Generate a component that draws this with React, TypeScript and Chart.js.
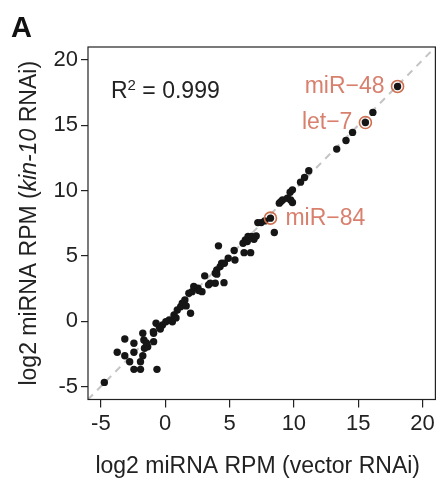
import { useEffect, useRef } from 'react';
import { Chart, registerables } from 'chart.js';
Chart.register(...registerables);

// ---- data ----
const xTicks = [-5, 0, 5, 10, 15, 20];
const yTicks = [-5, 0, 5, 10, 15, 20];
const axisMin = -6;
const axisMax = 21;

// log2 miRNA RPM (vector RNAi)
const vectorRNAi = [
  -4.73, -3.73, -3.14, -3.14, -2.76, -2.43, -2.43, -2.43, -1.92, -1.92,
  -1.74, -1.74, -1.66, -1.61, -1.36, -1.46, -0.90, -0.90, -0.64, -0.71,
  -0.46, -0.21, -0.38, -0.92, 0.05, 0.31, 0.56, 0.69, 0.84, 0.94,
  1.20, 1.33, 1.53, 1.97, 1.84, 2.09, 2.22, 2.55, 2.86, 3.07,
  3.37, 3.50, 3.89, 3.89, 4.01, 4.27, 4.39, 4.57, 4.14, 4.60,
  4.90, 5.36, 5.42, 6.05, 6.23, 6.38, 6.69, 7.07, 6.13, 6.64,
  7.20, 7.46, 7.74, 8.18, 8.48, 8.87, 9.12, 9.50, 9.71, 9.89,
  9.75, 10.52, 10.83, 11.16, 13.33, 14.05, 14.56, 16.14, 15.56, 18.06,
  1.63, 2.61, 4.01, 6.44, 6.90, 8.99, 9.89,
];
// log2 miRNA RPM (kin-10 RNAi)
const kin10RNAi = [
  -4.69, -2.38, -1.37, -2.65, -3.11, -1.69, -2.38, -3.69, -3.69, -3.11,
  -2.65, -0.93, -1.44, -2.08, -1.96, -1.67, -0.93, -1.57, -3.69, -0.16,
  -0.42, -0.29, -0.60, -0.81, -0.04, 0.09, -0.04, 0.48, 0.25, 0.86,
  1.11, 1.37, 1.63, 0.61, 2.14, 2.26, 2.65, 2.52, 2.26, 3.47,
  2.78, 2.91, 2.91, 3.67, 3.93, 4.18, 4.44, 2.95, 5.77, 4.44,
  4.82, 5.41, 4.69, 5.97, 6.23, 6.10, 6.48, 6.53, 5.25, 5.25,
  7.55, 7.55, 7.68, 7.89, 6.79, 9.04, 9.29, 9.42, 9.88, 10.06,
  9.29, 10.65, 11.00, 11.52, 13.18, 13.84, 14.46, 15.99, 15.22, 17.98,
  1.17, 2.34, 3.60, 6.48, 6.28, 9.16, 9.09,
];

const highlightNames = ['miR\u221248', 'let\u22127', 'miR\u221284'];
const highlightX = [18.06, 15.56, 8.18];
const highlightY = [17.98, 15.22, 7.89];
const highlightSide = ['left', 'left', 'right'];

const identityLine = [axisMin, axisMax];
const r2Text = '0.999';
const xTitle = 'log2 miRNA RPM (vector RNAi)';
const yTitleParts = ['log2 miRNA RPM (', 'kin-10', ' RNAi)'];
const panelLetter = 'A';

// ---- styles ----
const FONT = '"Liberation Sans", Arial, Helvetica, sans-serif';
const INK = '#222222';
const DOT = '#161616';
const LABEL = '#d8806d';
const RING = '#cc6f4f';

const textPlugin = {
  id: 'annotations',
  afterDraw(chart: any) {
    const { ctx, chartArea: a, scales } = chart;
    const xs = scales.x;
    const ys = scales.y;
    ctx.save();
    // frame
    ctx.strokeStyle = INK;
    ctx.lineWidth = 1.2;
    ctx.strokeRect(a.left, a.top, a.right - a.left, a.bottom - a.top);

    // highlight labels
    ctx.font = `23px ${FONT}`;
    ctx.fillStyle = LABEL;
    ctx.textBaseline = 'middle';
    highlightNames.forEach((name, i) => {
      const px = xs.getPixelForValue(highlightX[i]);
      const py = ys.getPixelForValue(highlightY[i]);
      if (highlightSide[i] === 'left') {
        ctx.textAlign = 'right';
        ctx.fillText(name, px - 13, py);
      } else {
        ctx.textAlign = 'left';
        ctx.fillText(name, px + 15, py);
      }
    });

    // R^2
    ctx.fillStyle = INK;
    ctx.textBaseline = 'alphabetic';
    ctx.textAlign = 'left';
    let rx = a.left + 23;
    const rb = a.top + 51;
    ctx.font = `23px ${FONT}`;
    ctx.fillText('R', rx, rb);
    rx += ctx.measureText('R').width;
    ctx.font = `15px ${FONT}`;
    ctx.fillText('2', rx, rb - 8);
    rx += ctx.measureText('2').width;
    ctx.font = `23px ${FONT}`;
    ctx.fillText(' = ' + r2Text, rx, rb);

    // x title
    ctx.textAlign = 'center';
    ctx.font = `23px ${FONT}`;
    ctx.fillText(xTitle, (a.left + a.right) / 2 - 4, 473);

    // y title (mixed italic)
    ctx.save();
    ctx.translate(36, (a.top + a.bottom) / 2);
    ctx.rotate(-Math.PI / 2);
    ctx.textAlign = 'left';
    const fonts = [`23px ${FONT}`, `italic 23px ${FONT}`, `23px ${FONT}`];
    let total = 0;
    const widths = yTitleParts.map((p, i) => {
      ctx.font = fonts[i];
      const w = ctx.measureText(p).width;
      total += w;
      return w;
    });
    let cx = -total / 2;
    yTitleParts.forEach((p, i) => {
      ctx.font = fonts[i];
      ctx.fillText(p, cx, 0);
      cx += widths[i];
    });
    ctx.restore();

    // panel letter
    ctx.font = `bold 29px ${FONT}`;
    ctx.textAlign = 'left';
    ctx.fillStyle = '#111';
    ctx.fillText(panelLetter, 11, 37);
    ctx.restore();
  },
};

export default function App() {
  const ref = useRef<HTMLCanvasElement | null>(null);
  useEffect(() => {
    if (!ref.current) return;
    const points = vectorRNAi.map((v, i) => ({ x: v, y: kin10RNAi[i] }));
    const rings = highlightX.map((v, i) => ({ x: v, y: highlightY[i] }));
    const line = identityLine.map((v) => ({ x: v, y: v }));
    const tickFont = { family: FONT, size: 22 };
    const chart = new Chart(ref.current, {
      type: 'scatter',
      data: {
        datasets: [
          {
            data: rings,
            pointRadius: 6,
            pointHoverRadius: 6,
            backgroundColor: 'rgba(0,0,0,0)',
            borderColor: RING,
            borderWidth: 1.6,
            pointBorderWidth: 1.6,
          } as any,
          {
            data: points,
            pointRadius: 3.7,
            pointHoverRadius: 3.7,
            backgroundColor: DOT,
            borderWidth: 0,
          },
          {
            type: 'line',
            data: line,
            borderColor: '#c4c4c4',
            borderWidth: 2,
            borderDash: [7, 6],
            pointRadius: 0,
            fill: false,
          } as any,
        ],
      },
      options: {
        responsive: false,
        animation: false,
        events: [],
        layout: { padding: { left: 0, top: 47, right: 3, bottom: 0 } },
        plugins: { legend: { display: false }, tooltip: { enabled: false } },
        scales: {
          x: {
            type: 'linear',
            min: axisMin,
            max: axisMax,
            afterBuildTicks: (axis: any) => {
              axis.ticks = xTicks.map((v) => ({ value: v }));
            },
            afterFit: (scale: any) => {
              scale.height = 81.5;
            },
            grid: { drawOnChartArea: false, drawTicks: true, tickLength: 8, color: INK, lineWidth: 1.2 },
            border: { display: false },
            ticks: { font: tickFont, color: INK, padding: 3, maxRotation: 0, autoSkip: false, callback: (v: any) => String(v) },
          },
          y: {
            type: 'linear',
            min: axisMin,
            max: axisMax,
            afterBuildTicks: (axis: any) => {
              axis.ticks = yTicks.map((v) => ({ value: v }));
            },
            afterFit: (scale: any) => {
              scale.width = 88;
            },
            grid: { drawOnChartArea: false, drawTicks: true, tickLength: 7, color: INK, lineWidth: 1.2 },
            border: { display: false },
            ticks: { font: tickFont, color: INK, padding: 3, autoSkip: false, callback: (v: any) => String(v) },
          },
        },
      },
      plugins: [textPlugin],
    });
    return () => chart.destroy();
  }, []);
  return (
    <div style={{ position: 'absolute', left: 0, top: 0, width: 443, height: 481, background: '#fff' }}>
      <canvas ref={ref} width={443} height={481} style={{ width: 443, height: 481 }} />
    </div>
  );
}
